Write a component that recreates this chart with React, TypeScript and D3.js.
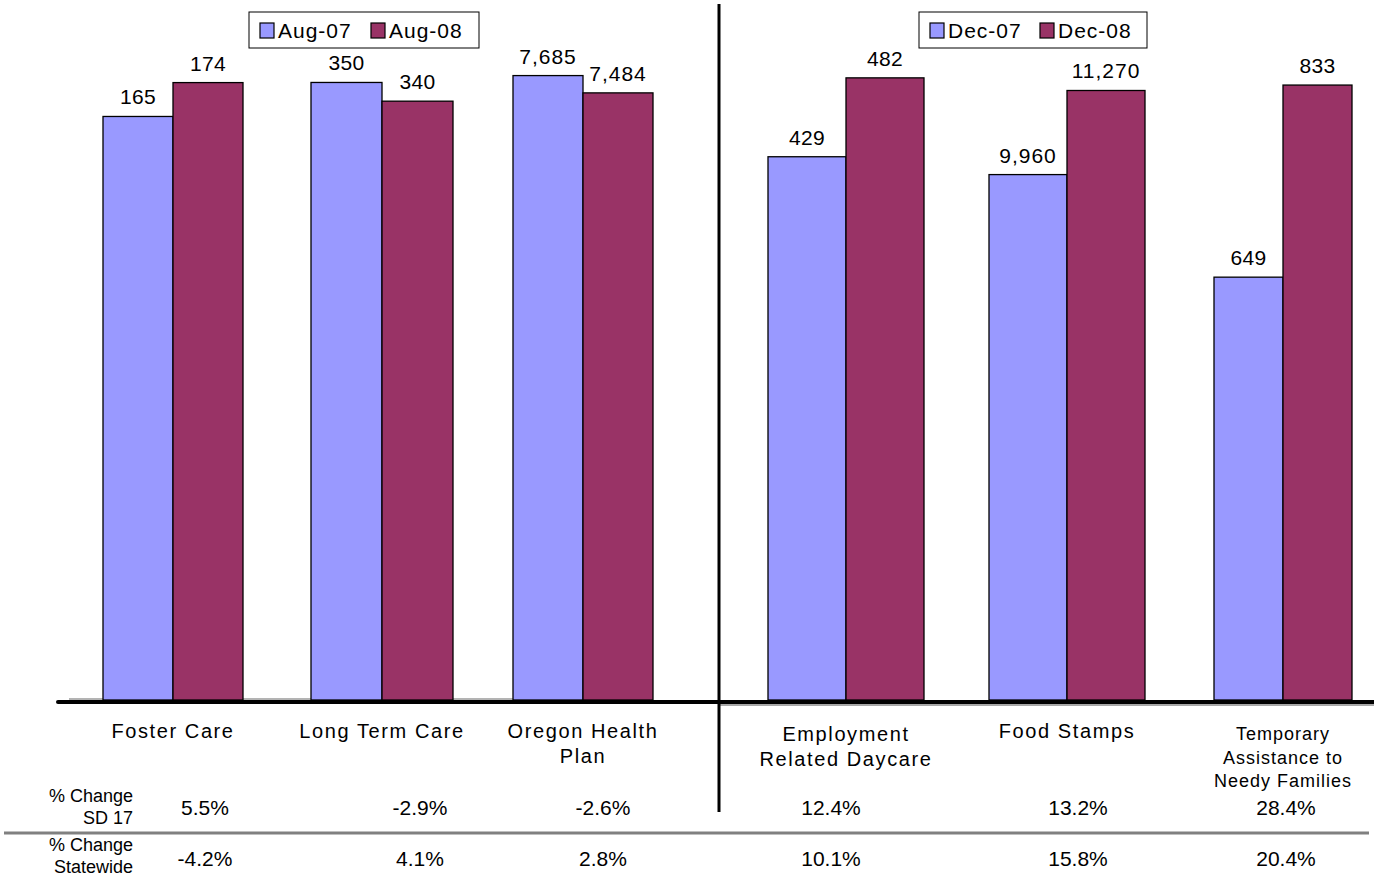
import React, { useEffect } from 'react';
import * as d3 from 'd3';

// ---------- data ----------
const categoryLines: string[][] = [
  ['Foster Care'],
  ['Long Term Care'],
  ['Oregon Health', 'Plan'],
  ['Employment', 'Related Daycare'],
  ['Food Stamps'],
  ['Temporary', 'Assistance to', 'Needy Families'],
];
const categoryPanel = [0, 0, 0, 1, 1, 1];
const earlierValues = [165, 350, 7685, 429, 9960, 649];
const laterValues = [174, 340, 7484, 482, 11270, 833];
// each small chart has its own value axis
const axisMin = [10, 20, 430, 64, 1775, 244];
const axisMax = [180, 362, 7866, 494, 11745, 857];
const pctChangeSD17 = ['5.5%', '-2.9%', '-2.6%', '12.4%', '13.2%', '28.4%'];
const pctChangeStatewide = ['-4.2%', '4.1%', '2.8%', '10.1%', '15.8%', '20.4%'];
const leftSeries = ['Aug-07', 'Aug-08'];
const rightSeries = ['Dec-07', 'Dec-08'];
const rowLabels = [['% Change', 'SD 17'], ['% Change', 'Statewide']];

// ---------- layout ----------
const W = 1374;
const H = 877;
const BASE = 700;
const TOP = 60;
const BLUE = '#9999FF';
const MAROON = '#993366';
const FONT = '"Liberation Sans", Arial, Helvetica, sans-serif';
const pctColumnX = [205, 420, 603, 831, 1078, 1286];
const groupCenterX = [173, 382, 583, 846, 1067, 1283];
const groupBarWidth = [70, 71, 70, 78, 78, 69];

const fmt = d3.format(',');

export default function App() {
  useEffect(() => {
    document.body.style.margin = '0';
  }, []);

  const idx = categoryPanel.map((_, i) => i);
  const xCenter = d3.scaleOrdinal<number, number>().domain(idx).range(groupCenterX);
  const yScales = idx.map((i) =>
    d3.scaleLinear().domain([axisMin[i], axisMax[i]]).range([BASE, TOP])
  );

  const bars: JSX.Element[] = [];
  const labels: JSX.Element[] = [];
  idx.forEach((i) => {
    const p = categoryPanel[i];
    const cx = xCenter(i);
    const bw = groupBarWidth[i];
    const y = yScales[i];
    [earlierValues[i], laterValues[i]].forEach((v, k) => {
      const bx = cx - bw + k * bw;
      const by = y(v);
      bars.push(
        <rect key={`b${i}-${k}`} x={bx} y={by} width={bw} height={BASE - by}
          fill={k === 0 ? BLUE : MAROON} stroke="#000" strokeWidth={1.3} />
      );
      labels.push(
        <text key={`v${i}-${k}`} x={bx + bw / 2} y={by - 12} textAnchor="middle"
          fontSize={21} letterSpacing={v >= 1000 ? 1 : 0.3}>{fmt(v)}</text>
      );
    });
    const lines = categoryLines[i];
    const small = lines.length > 2;
    lines.forEach((ln, j) => {
      labels.push(
        <text key={`c${i}-${j}`} x={cx} y={(small ? 740 : 738) + j * (small ? 23.5 : 25) + (p === 1 && !small && lines.length > 1 ? 3 : 0)}
          textAnchor="middle" fontSize={small ? 18 : 20} letterSpacing={small ? 1 : 1.6}>{ln}</text>
      );
    });
    labels.push(
      <text key={`p1-${i}`} x={pctColumnX[i]} y={815} textAnchor="middle" fontSize={21}>{pctChangeSD17[i]}</text>,
      <text key={`p2-${i}`} x={pctColumnX[i]} y={866} textAnchor="middle" fontSize={21}>{pctChangeStatewide[i]}</text>
    );
  });

  const legend = (series: string[], x: number, w: number, key: string) => {
    const swatchGap = [0, w / 2 - 4];
    return (
      <g key={key} transform={`translate(${x},12)`}>
        <rect x={0} y={0} width={w} height={36} fill="#fff" stroke="#000" strokeWidth={1} />
        {series.map((s, k) => (
          <g key={s} transform={`translate(${11 + swatchGap[k]},0)`}>
            <rect x={0} y={11} width={14} height={15} fill={k === 0 ? BLUE : MAROON} stroke="#000" strokeWidth={1.2} />
            <text x={18} y={26} fontSize={21} letterSpacing={1}>{s}</text>
          </g>
        ))}
      </g>
    );
  };

  return (
    <svg width={W} height={H} style={{ display: 'block', background: '#fff' }} fontFamily={FONT} fill="#000">
      <rect x={0} y={0} width={W} height={H} fill="#fff" />
      {/* faint sub-chart axes */}
      <line x1={69} x2={528} y1={699} y2={699} stroke="#9a9a9a" strokeWidth={1.5} />
      <line x1={720} x2={W} y1={705} y2={705} stroke="#8a8a8a" strokeWidth={1.5} />
      {bars}
      {/* main baseline */}
      <line x1={58} x2={W} y1={702} y2={702} stroke="#000" strokeWidth={4} strokeLinecap="round" />
      {/* vertical divider */}
      <line x1={719} x2={719} y1={4} y2={812} stroke="#000" strokeWidth={3} />
      {/* separator between percent rows */}
      <line x1={4} x2={1369} y1={833} y2={833} stroke="#808080" strokeWidth={3} />
      {legend(leftSeries, 249, 230, 'lg1')}
      {legend(rightSeries, 919, 228, 'lg2')}
      {labels}
      {rowLabels.map((rl, r) => (
        <g key={`rl${r}`}>
          {rl.map((t, j) => (
            <text key={t + j} x={133} y={(r === 0 ? 802 : 851) + j * 22} textAnchor="end" fontSize={18}>{t}</text>
          ))}
        </g>
      ))}
    </svg>
  );
}
